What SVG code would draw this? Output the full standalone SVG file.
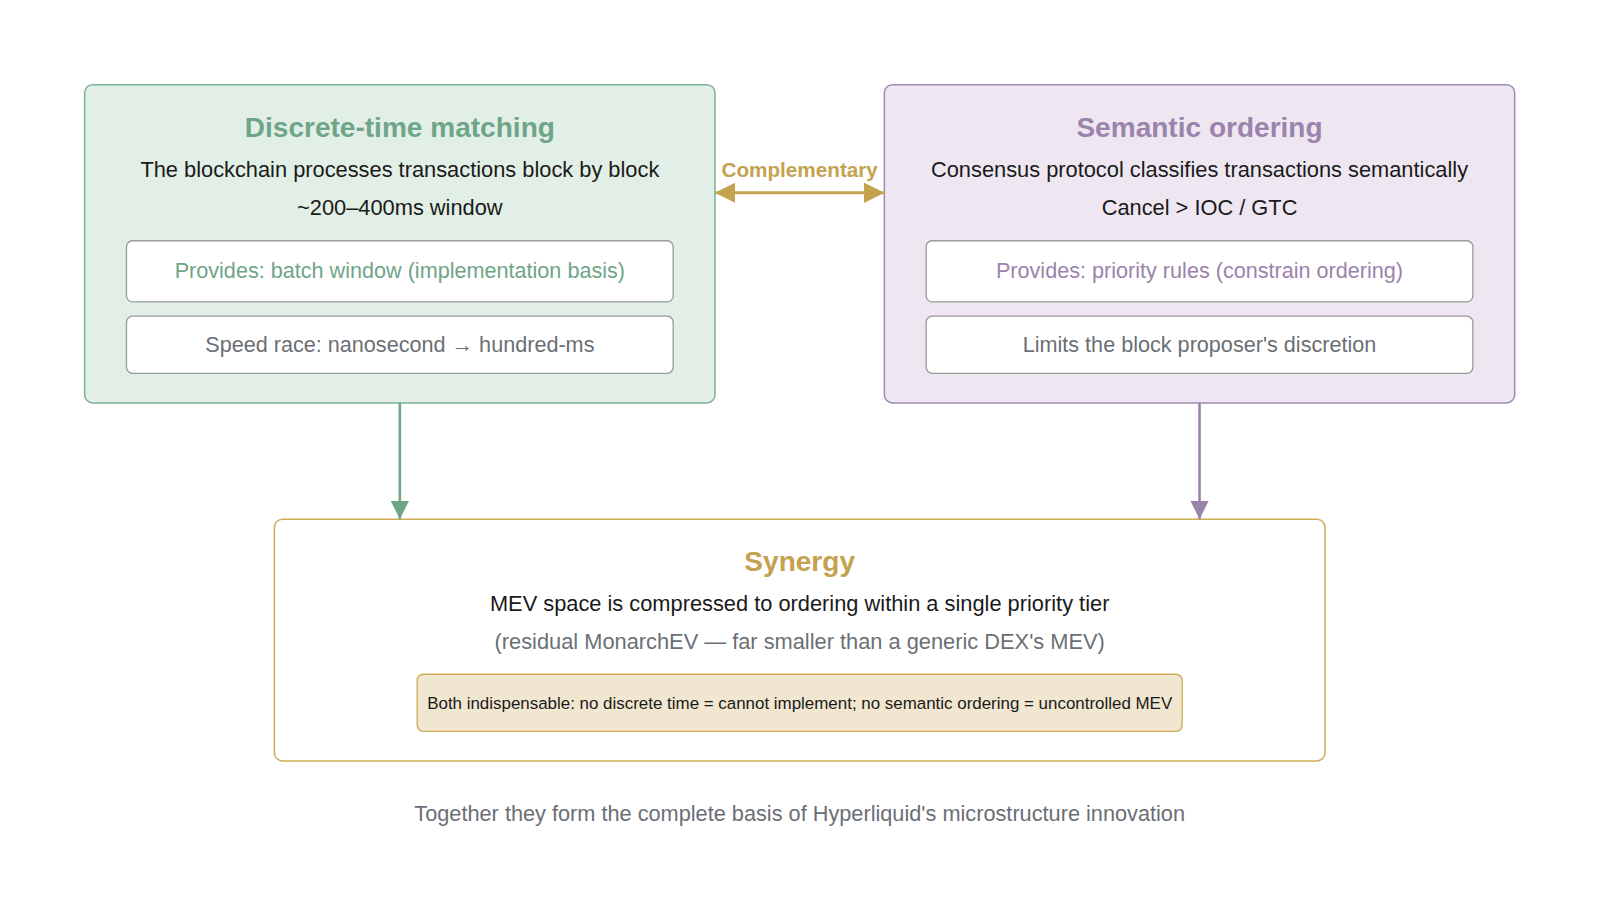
<svg xmlns="http://www.w3.org/2000/svg" width="1600" height="922" viewBox="0 0 1600 922">
<style>
text{font-family:"Liberation Sans",Arial,sans-serif;text-anchor:middle}
.t{font-size:27.5px;font-weight:bold}
.b{font-size:21.4px;fill:#1a1a1a}
.i{font-size:21.2px}
.g{fill:#6fa587}.p{fill:#9b83ac}.y{fill:#c4a24f}.gr{fill:#6b6f75}
.inner{fill:#fff;stroke:#9a9a9a;stroke-width:1.3}
</style>
<defs>
<marker id="mg" markerWidth="18" markerHeight="18" refX="18" refY="9" orient="auto" markerUnits="userSpaceOnUse" viewBox="0 0 18 18"><path d="M0,0L18,9L0,18z" fill="#6fa587"/></marker>
<marker id="mp" markerWidth="18" markerHeight="18" refX="18" refY="9" orient="auto" markerUnits="userSpaceOnUse" viewBox="0 0 18 18"><path d="M0,0L18,9L0,18z" fill="#9b83ac"/></marker>
<marker id="my" markerWidth="20" markerHeight="20" refX="19" refY="10" orient="auto-start-reverse" markerUnits="userSpaceOnUse" viewBox="0 0 20 20"><path d="M0,0L20,10L0,20z" fill="#c4a24f"/></marker>
</defs>
<rect width="1600" height="922" fill="#fff"/>
<g transform="scale(1.02)">
<g id="discrete">
<rect x="83" y="83" width="618" height="312" rx="8" fill="#e2efe7" stroke="#7db394" stroke-width="1.5"/>
<text x="392" y="134" class="t g">Discrete-time matching</text>
<text x="392" y="174" class="b">The blockchain processes transactions block by block</text>
<text x="392" y="211" class="b">~200–400ms window</text>
<rect x="124" y="236" width="536" height="60" rx="6" class="inner"/>
<text x="392" y="273" class="i g">Provides: batch window (implementation basis)</text>
<rect x="124" y="310" width="536" height="56" rx="6" class="inner"/>
<text x="392" y="345" class="i gr">Speed race: nanosecond → hundred-ms</text>
</g>
<g id="semantic">
<rect x="867" y="83" width="618" height="312" rx="8" fill="#eee7f2" stroke="#a18db1" stroke-width="1.5"/>
<text x="1176" y="134" class="t p">Semantic ordering</text>
<text x="1176" y="174" class="b">Consensus protocol classifies transactions semantically</text>
<text x="1176" y="211" class="b">Cancel &gt; IOC / GTC</text>
<rect x="908" y="236" width="536" height="60" rx="6" class="inner"/>
<text x="1176" y="273" class="i p">Provides: priority rules (constrain ordering)</text>
<rect x="908" y="310" width="536" height="56" rx="6" class="inner"/>
<text x="1176" y="345" class="i gr">Limits the block proposer's discretion</text>
</g>
<g id="synergy">
<rect x="269" y="509" width="1030" height="237" rx="8" fill="#fff" stroke="#d0ac55" stroke-width="1.5"/>
<text x="784" y="560" class="t y">Synergy</text>
<text x="784" y="599" class="b">MEV space is compressed to ordering within a single priority tier</text>
<text x="784" y="636" class="b gr">(residual MonarchEV — far smaller than a generic DEX's MEV)</text>
<rect x="409" y="661" width="750" height="56" rx="6" fill="#f1e6cf" stroke="#d0ac55" stroke-width="1.3"/>
<text x="784" y="695" style="font-size:16.6px;fill:#1a1a1a">Both indispensable: no discrete time = cannot implement; no semantic ordering = uncontrolled MEV</text>
</g>
<g id="connectors">
<line x1="392" y1="395" x2="392" y2="509" stroke="#6fa587" stroke-width="2.5" marker-end="url(#mg)"/>
<line x1="1176" y1="395" x2="1176" y2="509" stroke="#9b83ac" stroke-width="2.5" marker-end="url(#mp)"/>
<line x1="702" y1="189" x2="866" y2="189" stroke="#c4a24f" stroke-width="3" marker-start="url(#my)" marker-end="url(#my)"/>
<text x="784" y="174" style="font-size:20.3px;font-weight:bold" class="y">Complementary</text>
</g>
<text x="784" y="805" style="font-size:21.3px" class="gr">Together they form the complete basis of Hyperliquid's microstructure innovation</text>
</g>
</svg>
